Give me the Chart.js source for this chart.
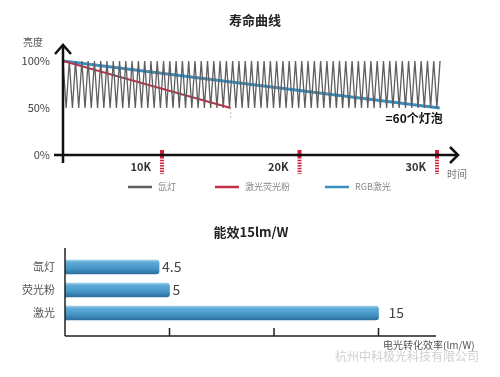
<!DOCTYPE html>
<html>
<head>
<meta charset="utf-8">
<script src="https://cdn.jsdelivr.net/npm/chart.js@4.4.0/dist/chart.umd.min.js"></script>
<style>
  html, body { margin: 0; padding: 0; background: #fff; }
  #wrap { position: relative; width: 500px; height: 377px; }
  #life { position: absolute; left: 0; top: 0; }
  #eff { position: absolute; left: 0; top: 205px; }
</style>
</head>
<body>
<div id="wrap">
  <canvas id="life" width="500" height="205" style="width:500px;height:205px"></canvas>
  <canvas id="eff" width="500" height="172" style="width:500px;height:172px"></canvas>
</div>
<script>
// ---- 寿命曲线 ----
const lifeXTicks = [10000, 20000, 30000];
const lifeXLabels = ['10K', '20K', '30K'];
const lifeYTicks = [0, 50, 100];
const lifeYLabels = ['0%', '50%', '100%'];
const seriesNames = ['氙灯', '激光荧光粉', 'RGB激光'];

// 激光荧光粉 / RGB激光 (时间, 亮度%)
const phosphorHours = [2800, 15000];
const phosphorLevel = [100, 50];
const rgbHours = [2800, 30200];
const rgbLevel = [100, 50];

// 氙灯: 60 个灯泡, 每个从 100% 衰减到 50% 后更换
const xenonBulb = [
  0, 0.5, 1, 1.5, 2, 2.5, 3, 3.5, 4, 4.5, 5, 5.5, 6, 6.5, 7, 7.5, 8, 8.5, 9, 9.5,
  10, 10.5, 11, 11.5, 12, 12.5, 13, 13.5, 14, 14.5, 15, 15.5, 16, 16.5, 17, 17.5, 18, 18.5, 19, 19.5,
  20, 20.5, 21, 21.5, 22, 22.5, 23, 23.5, 24, 24.5, 25, 25.5, 26, 26.5, 27, 27.5, 28, 28.5, 29, 29.5,
  30, 30.5, 31, 31.5, 32, 32.5, 33, 33.5, 34, 34.5, 35, 35.5, 36, 36.5, 37, 37.5, 38, 38.5, 39, 39.5,
  40, 40.5, 41, 41.5, 42, 42.5, 43, 43.5, 44, 44.5, 45, 45.5, 46, 46.5, 47, 47.5, 48, 48.5, 49, 49.5,
  50, 50.5, 51, 51.5, 52, 52.5, 53, 53.5, 54, 54.5, 55, 55.5, 56, 56.5, 57, 57.5, 58, 58.5, 59, 59.5,
  60
];
const xenonLevel = [
  100, 50, 100, 50, 100, 50, 100, 50, 100, 50, 100, 50, 100, 50, 100, 50, 100, 50, 100, 50,
  100, 50, 100, 50, 100, 50, 100, 50, 100, 50, 100, 50, 100, 50, 100, 50, 100, 50, 100, 50,
  100, 50, 100, 50, 100, 50, 100, 50, 100, 50, 100, 50, 100, 50, 100, 50, 100, 50, 100, 50,
  100, 50, 100, 50, 100, 50, 100, 50, 100, 50, 100, 50, 100, 50, 100, 50, 100, 50, 100, 50,
  100, 50, 100, 50, 100, 50, 100, 50, 100, 50, 100, 50, 100, 50, 100, 50, 100, 50, 100, 50,
  100, 50, 100, 50, 100, 50, 100, 50, 100, 50, 100, 50, 100, 50, 100, 50, 100, 50, 100, 50,
  100
];

// ---- 能效 ----
const effCategories = ['氙灯', '荧光粉', '激光'];
const effValues = [4.5, 5, 15];
const effTicks = [5, 10, 15];

const FONT = '"Noto Sans CJK SC", "Noto Sans", sans-serif';
const pairs = (xs, ys) => xs.map((v, i) => ({ x: v, y: ys[i] }));

const lifeDecor = {
  id: 'lifeDecor',
  afterDraw(chart) {
    const { ctx, chartArea: a, scales: { x, y } } = chart;
    const y0 = y.getPixelForValue(0);
    const x0 = a.left;
    ctx.save();

    ctx.fillStyle = '#222';
    ctx.font = 'bold 13px ' + FONT;
    ctx.textAlign = 'center';
    ctx.textBaseline = 'middle';
    ctx.fillText('寿命曲线', 255, 20);

    // 红色虚线刻度
    ctx.strokeStyle = '#d3203a';
    ctx.lineWidth = 4;
    lifeXTicks.forEach(v => {
      const px = x.getPixelForValue(v);
      ctx.setLineDash([]);
      ctx.beginPath(); ctx.moveTo(px, y0 - 5); ctx.lineTo(px, y0 + 2); ctx.stroke();
      ctx.setLineDash([1.5, 1.2]);
      ctx.beginPath(); ctx.moveTo(px, y0 + 2); ctx.lineTo(px, y0 + 19); ctx.stroke();
    });
    ctx.setLineDash([]);

    // 荧光粉终点的灰色虚线
    const pEnd = x.getPixelForValue(phosphorHours[1]);
    ctx.strokeStyle = '#bbb'; ctx.lineWidth = 1;
    ctx.setLineDash([2, 2]);
    ctx.beginPath(); ctx.moveTo(pEnd, y.getPixelForValue(50)); ctx.lineTo(pEnd, y.getPixelForValue(40)); ctx.stroke();
    ctx.setLineDash([]);

    // 坐标轴 + 箭头
    ctx.strokeStyle = '#111';
    ctx.lineWidth = 2.5;
    ctx.beginPath();
    ctx.moveTo(x0 - 9, y0); ctx.lineTo(a.right, y0);
    ctx.moveTo(x0, y0 + 8); ctx.lineTo(x0, a.top);
    ctx.stroke();
    ctx.beginPath();
    ctx.moveTo(x0 - 8, a.top + 9); ctx.lineTo(x0, a.top); ctx.lineTo(x0 + 8, a.top + 9);
    ctx.moveTo(a.right - 8, y0 - 8); ctx.lineTo(a.right, y0); ctx.lineTo(a.right - 8, y0 + 8);
    ctx.stroke();

    // y 轴标签
    ctx.fillStyle = '#444';
    ctx.font = '11px ' + FONT;
    ctx.textAlign = 'right';
    lifeYTicks.forEach((v, i) => ctx.fillText(lifeYLabels[i], 50, y.getPixelForValue(v)));
    ctx.fillStyle = '#555';
    ctx.font = '10px ' + FONT;
    ctx.textAlign = 'center';
    ctx.fillText('亮度', 33, 42);

    // x 轴标签
    ctx.fillStyle = '#333';
    ctx.font = 'bold 11px ' + FONT;
    ctx.textAlign = 'right';
    lifeXTicks.forEach((v, i) => ctx.fillText(lifeXLabels[i], x.getPixelForValue(v) - 11, y0 + 12));
    ctx.fillStyle = '#777';
    ctx.font = '10px ' + FONT;
    ctx.textAlign = 'left';
    ctx.fillText('时间', 447, y0 + 19);

    // 注释
    ctx.fillStyle = '#111';
    ctx.font = 'bold 12px ' + FONT;
    ctx.textAlign = 'right';
    ctx.fillText('=60个灯泡', x.getPixelForValue(rgbHours[1]) + 3, y.getPixelForValue(rgbLevel[1]) + 10);

    // 图例
    const lx = [128, 215, 325];
    ctx.font = '9px ' + FONT;
    ctx.textAlign = 'left';
    chart.data.datasets.forEach((ds, i) => {
      ctx.strokeStyle = ds.borderColor;
      ctx.lineWidth = 2.5;
      ctx.beginPath(); ctx.moveTo(lx[i], 187); ctx.lineTo(lx[i] + 24, 187); ctx.stroke();
      ctx.fillStyle = '#888';
      ctx.fillText(ds.label, lx[i] + 30, 187);
    });
    ctx.restore();
  }
};

new Chart(document.getElementById('life'), {
  type: 'line',
  data: {
    datasets: [
      { label: seriesNames[0], data: pairs(xenonBulb, xenonLevel), xAxisID: 'x2',
        borderColor: '#5e5e5e', borderWidth: 1.3, pointRadius: 0, tension: 0 },
      { label: seriesNames[1], data: pairs(phosphorHours, phosphorLevel), xAxisID: 'x',
        borderColor: '#c2304a', borderWidth: 2, pointRadius: 0, tension: 0 },
      { label: seriesNames[2], data: pairs(rgbHours, rgbLevel), xAxisID: 'x',
        borderColor: '#3a8fc0', borderWidth: 3, pointRadius: 0, tension: 0 }
    ]
  },
  options: {
    responsive: false,
    animation: false,
    layout: { padding: { left: 63, right: 42, top: 45, bottom: 50 } },
    plugins: { legend: { display: false }, tooltip: { enabled: false } },
    scales: {
      x: { type: 'linear', display: false, min: 2800, max: 31527 },
      x2: { type: 'linear', display: false, min: 0, max: 62.86 },
      y: { type: 'linear', display: false, min: 0, max: 117 }
    }
  },
  plugins: [lifeDecor]
});

// ---- 能效图 ----
const barFill = (c) => {
  const chart = c.chart;
  if (!chart.chartArea || c.dataIndex === undefined) return '#4a9bc9';
  const yc = chart.scales.y.getPixelForValue(c.dataIndex);
  const g = chart.ctx.createLinearGradient(0, yc - 7, 0, yc + 7);
  g.addColorStop(0, '#9ccde9');
  g.addColorStop(0.18, '#5eaad8');
  g.addColorStop(0.6, '#4596c8');
  g.addColorStop(1, '#2c6f9e');
  return g;
};

const effDecor = {
  id: 'effDecor',
  afterDraw(chart) {
    const { ctx, chartArea: a, scales: { x } } = chart;
    const axisY = 131;
    ctx.save();
    ctx.fillStyle = '#222';
    ctx.font = 'bold 13px ' + FONT;
    ctx.textAlign = 'center';
    ctx.textBaseline = 'middle';
    ctx.fillText('能效15lm/W', 251, 27);

    ctx.strokeStyle = '#222';
    ctx.lineWidth = 1.5;
    ctx.beginPath();
    ctx.moveTo(a.left, 43); ctx.lineTo(a.left, axisY);
    ctx.moveTo(a.left, axisY); ctx.lineTo(a.right, axisY);
    effTicks.forEach(v => {
      const px = x.getPixelForValue(v);
      ctx.moveTo(px, axisY); ctx.lineTo(px, axisY - 8);
    });
    ctx.stroke();

    const meta = chart.getDatasetMeta(0);
    ctx.font = '14px ' + FONT;
    ctx.fillStyle = '#444';
    ctx.textAlign = 'left';
    meta.data.forEach((bar, i) => {
      ctx.fillText(String(effValues[i]), bar.x + (i === 2 ? 10 : 3), bar.y);
    });

    ctx.font = '11px ' + FONT;
    ctx.fillStyle = '#555';
    ctx.textAlign = 'right';
    meta.data.forEach((bar, i) => ctx.fillText(effCategories[i], 55, bar.y));

    ctx.font = '10px ' + FONT;
    ctx.fillStyle = '#555';
    ctx.textAlign = 'left';
    ctx.fillText('电光转化效率(lm/W)', 383, 140);

    ctx.font = '12px ' + FONT;
    ctx.fillStyle = '#cfcfcf';
    ctx.fillText('杭州中科极光科技有限公司', 335, 151);
    ctx.restore();
  }
};

new Chart(document.getElementById('eff'), {
  type: 'bar',
  data: {
    labels: effCategories,
    datasets: [{
      data: effValues,
      backgroundColor: barFill,
      barThickness: 14,
      borderRadius: { topRight: 3, bottomRight: 3 },
      borderSkipped: 'start'
    }]
  },
  options: {
    indexAxis: 'y',
    responsive: false,
    animation: false,
    layout: { padding: { left: 65, right: 64, top: 50.5, bottom: 52.5 } },
    plugins: { legend: { display: false }, tooltip: { enabled: false } },
    scales: {
      x: { type: 'linear', display: false, min: 0, max: 17.75 },
      y: { type: 'category', display: false }
    }
  },
  plugins: [effDecor]
});
</script>
</body>
</html>
